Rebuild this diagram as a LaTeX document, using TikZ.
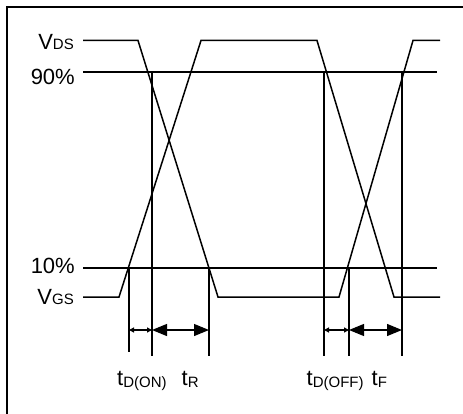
\documentclass[tikz,border=0pt]{standalone}
\usepackage{fontspec}
\setmainfont{Liberation Sans}
\usetikzlibrary{arrows.meta}
\newcommand{\subtxt}[2]{\raisebox{#1}{\fontsize{15}{18}\selectfont #2}}
\begin{document}
\begin{tikzpicture}[x=1pt,y=-1pt,
  frame/.style={line width=1.8pt},
  sig/.style={line width=1.5pt, line join=miter},
  guide/.style={line width=1.5pt},
  lbl/.style={inner sep=0pt, font=\fontsize{22}{26}\selectfont},
  smallarrow/.style={line width=1.2pt, {Triangle[length=5pt,width=5pt]}-{Triangle[length=5pt,width=5pt]}},
  bigarrow/.style={line width=1.2pt, {Triangle[length=15pt,width=12pt]}-{Triangle[length=15pt,width=12pt]}}]
\useasboundingbox (0,0) rectangle (463,414);
% frame (top and left edges visible)
\coordinate (ftl) at (7,7);
\coordinate (ftr) at (464,7);
\coordinate (fbl) at (7,415);
\draw[frame] (fbl) -- (ftl) -- (ftr);
% V_DS waveform
\coordinate (d0) at (83,40.5);
\coordinate (d1) at (138,40.5);
\coordinate (d2) at (218,297);
\coordinate (d3) at (339,297);
\coordinate (d4) at (413,40.5);
\coordinate (d5) at (440,40.5);
\draw[sig] (d0) -- (d1) -- (d2) -- (d3) -- (d4) -- (d5);
% V_GS waveform
\coordinate (g0) at (83,297);
\coordinate (g1) at (119,297);
\coordinate (g2) at (201,40.5);
\coordinate (g3) at (317,40.5);
\coordinate (g4) at (394,297);
\coordinate (g5) at (440,297);
\draw[sig] (g0) -- (g1) -- (g2) -- (g3) -- (g4) -- (g5);
% 90% and 10% levels
\coordinate (n0) at (83,72);
\coordinate (n1) at (437,72);
\coordinate (t0) at (83,268);
\coordinate (t1) at (437,268);
\draw[guide] (n0) -- (n1);
\draw[guide] (t0) -- (t1);
% vertical markers
\coordinate (v1a) at (129,268); \coordinate (v1b) at (129,352);
\coordinate (v2a) at (152,72);  \coordinate (v2b) at (152,356);
\coordinate (v3a) at (209,268); \coordinate (v3b) at (209,356);
\coordinate (v4a) at (324,72);  \coordinate (v4b) at (324,356);
\coordinate (v5a) at (349,268); \coordinate (v5b) at (349,356);
\coordinate (v6a) at (402,72);  \coordinate (v6b) at (402,356);
\draw[guide] (v1a) -- (v1b);
\draw[guide] (v2a) -- (v2b);
\draw[guide] (v3a) -- (v3b);
\draw[guide] (v4a) -- (v4b);
\draw[guide] (v5a) -- (v5b);
\draw[guide] (v6a) -- (v6b);
% dimension arrows
\coordinate (a1) at (129,330); \coordinate (a2) at (152,330); \coordinate (a3) at (209,330);
\coordinate (a4) at (324,330); \coordinate (a5) at (349,330); \coordinate (a6) at (402,330);
\draw[smallarrow] (a1) -- (a2);
\draw[bigarrow] (a2) -- (a3);
\draw[smallarrow] (a4) -- (a5);
\draw[bigarrow] (a5) -- (a6);
% left labels
\node[lbl, anchor=base east] (lvds) at (74,49.5) {V\subtxt{0pt}{DS}};
\node[lbl, anchor=base east] (l90) at (75,84.5) {90\%};
\node[lbl, anchor=base east] (l10) at (75,273.5) {10\%};
\node[lbl, anchor=base east] (lvgs) at (74,304.5) {V\subtxt{0pt}{GS}};
% timing labels
\node[lbl, anchor=base west] (ltdon) at (117,385) {t\subtxt{-2pt}{D(ON)}};
\node[lbl, anchor=base west] (ltr) at (181.5,385) {t\subtxt{-2pt}{R}};
\node[lbl, anchor=base west] (ltdoff) at (306.5,385) {t\subtxt{-2pt}{D(OFF)}};
\node[lbl, anchor=base west] (ltf) at (371.5,385) {t\subtxt{-2pt}{F}};
\end{tikzpicture}
\end{document}
